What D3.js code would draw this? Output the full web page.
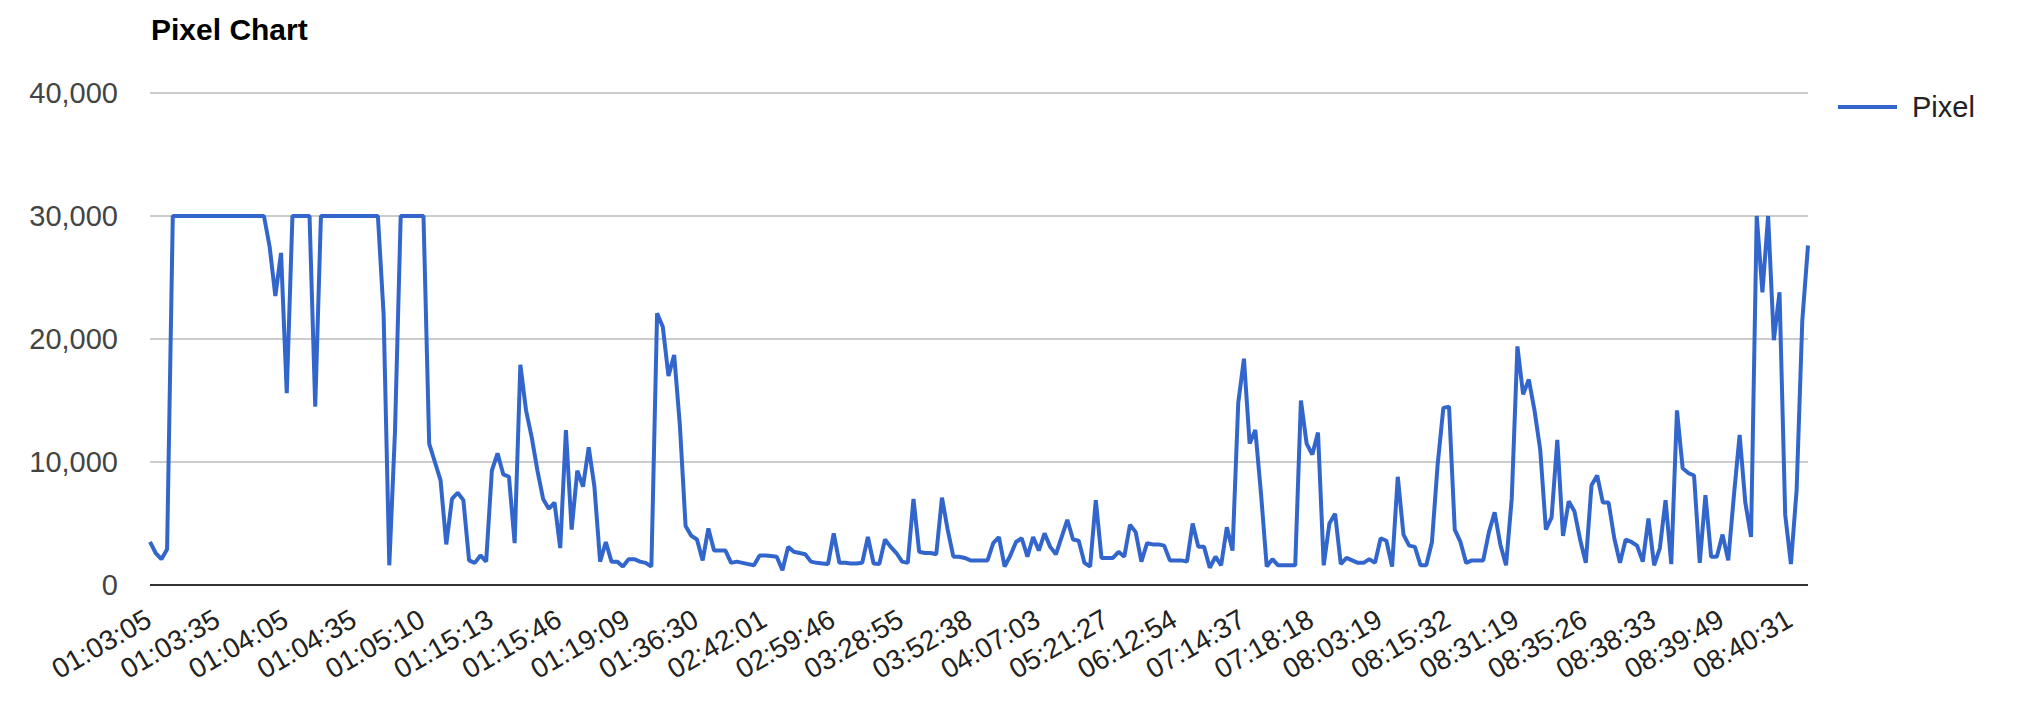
<!DOCTYPE html>
<html>
<head>
<meta charset="utf-8">
<script src="https://cdn.jsdelivr.net/npm/d3@7/dist/d3.min.js"></script>
<style>
  body { margin: 0; background: #fff; }
  svg { display: block; font-family: "Liberation Sans", Arial, sans-serif; }
</style>
</head>
<body>
<svg id="chart" width="2018" height="712"></svg>
<script>
// ---------- data ----------
const chartTitle = "Pixel Chart";
const seriesName = "Pixel";
const tickLabels = [
  "01:03:05", "01:03:35", "01:04:05", "01:04:35", "01:05:10", "01:15:13", "01:15:46",
  "01:19:09", "01:36:30", "02:42:01", "02:59:46", "03:28:55", "03:52:38", "04:07:03",
  "05:21:27", "06:12:54", "07:14:37", "07:18:18", "08:03:19", "08:15:32", "08:31:19",
  "08:35:26", "08:38:33", "08:39:49", "08:40:31"
];
const labelEvery = 12;           // one label every 12 samples
const yTickValues = [0, 10000, 20000, 30000, 40000];
const pixel = [
  3500, 2600, 2100, 2900, 30000, 30000, 30000, 30000, 30000, 30000, 30000, 30000,
  30000, 30000, 30000, 30000, 30000, 30000, 30000, 30000, 30000, 27500, 23500, 27000,
  15600, 30000, 30000, 30000, 30000, 14500, 30000, 30000, 30000, 30000, 30000, 30000,
  30000, 30000, 30000, 30000, 30000, 22000, 1600, 12500, 30000, 30000, 30000, 30000,
  30000, 11500, 10000, 8500, 3300, 7000, 7500, 6900, 2000, 1800, 2400, 1900,
  9300, 10700, 9000, 8800, 3400, 17900, 14200, 12000, 9300, 7000, 6200, 6700,
  3000, 12600, 4500, 9300, 8000, 11200, 8000, 1900, 3500, 1900, 1900, 1500,
  2100, 2100, 1900, 1800, 1500, 22100, 21000, 17000, 18700, 13000, 4800, 4000,
  3700, 2000, 4600, 2800, 2800, 2800, 1800, 1900, 1800, 1700, 1600, 2400,
  2400, 2350, 2300, 1200, 3100, 2700, 2600, 2500, 1900, 1800, 1750, 1700,
  4200, 1800, 1800, 1750, 1750, 1800, 3900, 1750, 1700, 3700, 3100, 2600,
  1900, 1800, 7000, 2700, 2600, 2600, 2500, 7100, 4500, 2300, 2300, 2200,
  2000, 2000, 2000, 2000, 3400, 3900, 1500, 2400, 3500, 3800, 2300, 3900,
  2800, 4200, 3100, 2500, 3900, 5300, 3700, 3600, 1800, 1500, 6900, 2200,
  2200, 2200, 2700, 2300, 4900, 4300, 1900, 3400, 3300, 3300, 3200, 2000,
  2000, 2000, 1900, 5000, 3100, 3100, 1400, 2300, 1600, 4700, 2800, 14800,
  18400, 11500, 12600, 7400, 1500, 2100, 1600, 1600, 1600, 1600, 15000, 11500,
  10600, 12400, 1600, 5000, 5800, 1700, 2200, 2000, 1800, 1800, 2100, 1800,
  3800, 3600, 1500, 8800, 4100, 3200, 3100, 1600, 1600, 3500, 9800, 14400,
  14500, 4500, 3500, 1800, 2000, 2000, 2000, 4300, 5900, 3300, 1600, 7000,
  19400, 15500, 16700, 14200, 11000, 4500, 5500, 11800, 4000, 6800, 6000, 3700,
  1800, 8100, 8900, 6700, 6700, 3800, 1800, 3700, 3500, 3200, 1900, 5400,
  1600, 3000, 6900, 1700, 14200, 9500, 9100, 8900, 1800, 7300, 2300, 2300,
  4100, 2000, 7300, 12200, 6700, 3900, 30000, 23800, 30000, 19900, 23800, 5700,
  1700, 7700, 21500, 27600
];

// ---------- layout ----------
const plot = { left: 150, right: 1808, top: 93, bottom: 585 };
const svg = d3.select("#chart");

const x = d3.scaleLinear().domain([0, pixel.length - 1]).range([plot.left, plot.right]);
const y = d3.scaleLinear().domain([0, 40000]).range([plot.bottom, plot.top]);

// title
svg.append("text")
  .attr("x", 151).attr("y", 40)
  .attr("font-size", 30).attr("font-weight", "bold").attr("fill", "#000")
  .text(chartTitle);

// gridlines
svg.append("g")
  .selectAll("line")
  .data(yTickValues.filter(v => v !== 0))
  .join("line")
  .attr("x1", plot.left).attr("x2", plot.right)
  .attr("y1", d => y(d)).attr("y2", d => y(d))
  .attr("stroke", "#cccccc").attr("stroke-width", 2);

// y axis labels
const yAxis = svg.append("g")
  .attr("transform", `translate(${plot.left},0)`)
  .call(d3.axisLeft(y).tickValues(yTickValues).tickFormat(d3.format(",")).tickSize(0).tickPadding(32));
yAxis.select(".domain").remove();
yAxis.selectAll("text")
  .attr("font-size", 29).attr("fill", "#444").attr("font-family", "Liberation Sans, Arial, sans-serif");

// x axis labels (slanted)
const tickIdx = tickLabels.map((_, i) => i * labelEvery);
const xAxis = svg.append("g")
  .attr("transform", `translate(0,${plot.bottom})`)
  .call(d3.axisBottom(x).tickValues(tickIdx).tickFormat((d, i) => tickLabels[i]).tickSize(0));
xAxis.select(".domain").remove();
xAxis.selectAll("text")
  .attr("x", 0).attr("y", 0).attr("dy", null)
  .attr("text-anchor", "end")
  .attr("transform", "translate(3,40) rotate(-30)")
  .attr("font-size", 28).attr("fill", "#222").attr("font-family", "Liberation Sans, Arial, sans-serif");

// baseline
svg.append("line")
  .attr("x1", plot.left).attr("x2", plot.right)
  .attr("y1", y(0)).attr("y2", y(0))
  .attr("stroke", "#333333").attr("stroke-width", 2);

// series line
const line = d3.line().x((d, i) => x(i)).y(d => y(d));
svg.append("path")
  .datum(pixel)
  .attr("d", line)
  .attr("fill", "none")
  .attr("stroke", "#3366cc")
  .attr("stroke-width", 4)
  .attr("stroke-linejoin", "bevel");

// legend
const lg = svg.append("g");
lg.append("line")
  .attr("x1", 1838).attr("x2", 1897).attr("y1", 107).attr("y2", 107)
  .attr("stroke", "#3366cc").attr("stroke-width", 4);
lg.append("text")
  .attr("x", 1912).attr("y", 107).attr("dy", "0.35em")
  .attr("font-size", 29).attr("fill", "#222")
  .text(seriesName);
</script>
</body>
</html>
